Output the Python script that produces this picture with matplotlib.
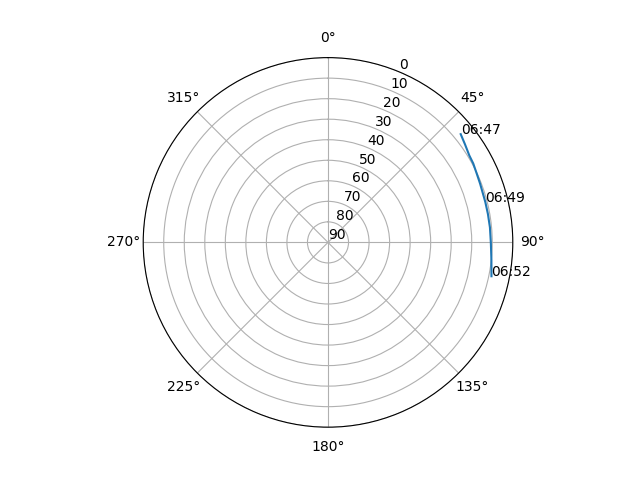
import numpy as np
import matplotlib
matplotlib.use("Agg")
import matplotlib.pyplot as plt

# satellite track (azimuth deg, elevation deg)
azimuth_deg = [50.8, 54.4, 58.4, 61.5, 65.2, 68.9, 72.6, 75.6, 79.9, 84.7, 90.0, 95.9, 101.7]
elevation_deg = [6.6, 7.95, 9.2, 9.5, 10.2, 10.6, 10.9, 10.9, 10.9, 10.8, 10.7, 10.0, 8.7]
times = ["06:47", "", "", "", "", "", "", "06:49", "", "", "", "", "06:52"]
radial_ticks = list(range(0, 91, 10))

fig = plt.figure(figsize=(6.4, 4.8), dpi=100)
ax = fig.add_subplot(111, projection="polar")
ax.set_theta_zero_location("N")
ax.set_theta_direction(-1)

theta = np.radians(azimuth_deg)
ax.plot(theta, elevation_deg)
for t, az, el in zip(times, azimuth_deg, elevation_deg):
    if t:
        ax.text(np.radians(az), el, t)

ax.set_ylim(90, 0)
ax.set_yticks(radial_ticks)
fig.savefig("out.png")
